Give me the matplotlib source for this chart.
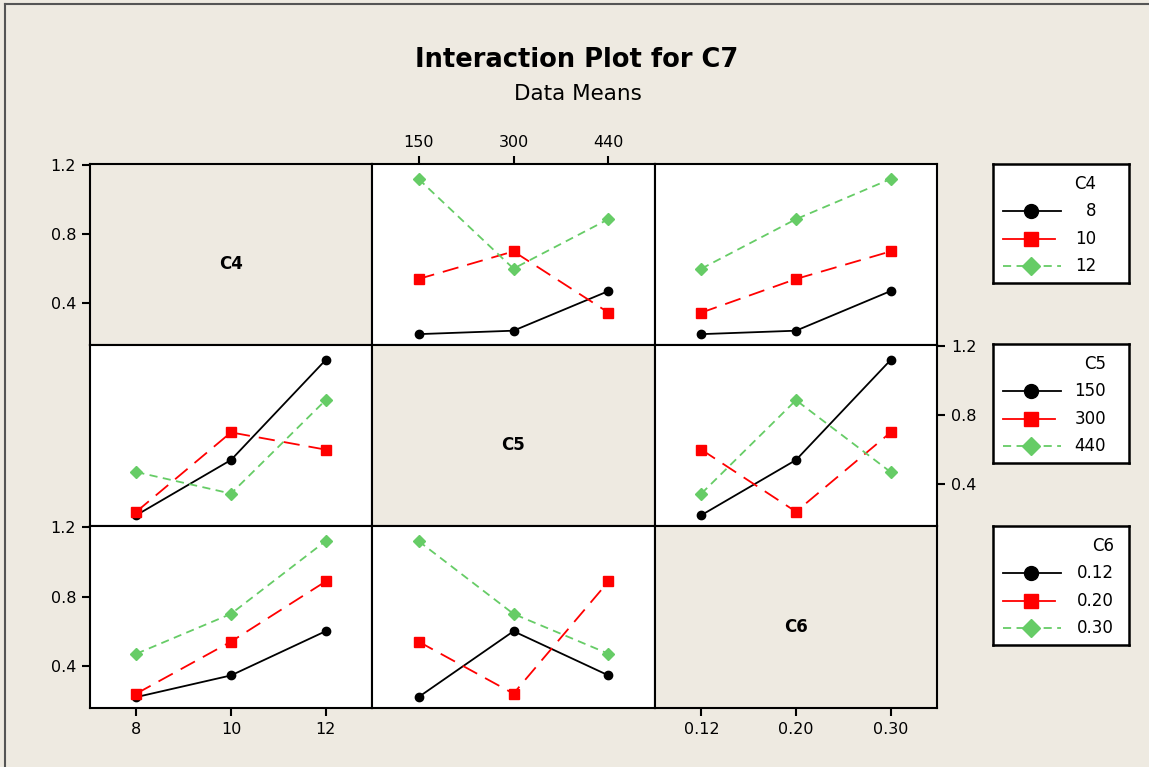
import numpy as np
import pandas as pd
import matplotlib
matplotlib.use('Agg')
import matplotlib.pyplot as plt
from matplotlib.lines import Line2D

# L9 runs: factor settings and response C7
c4 = [8, 8, 8, 10, 10, 10, 12, 12, 12]
c5 = [150, 300, 440, 150, 300, 440, 150, 300, 440]
c6 = [0.12, 0.20, 0.30, 0.20, 0.30, 0.12, 0.30, 0.12, 0.20]
c7 = [0.22, 0.24, 0.47, 0.54, 0.70, 0.345, 1.12, 0.60, 0.887]

factors = ['C4', 'C5', 'C6']
c4_levels = [8, 10, 12]
c5_levels = [150, 300, 440]
c6_levels = [0.12, 0.20, 0.30]
c4_labels = ['8', '10', '12']
c5_labels = ['150', '300', '440']
c6_labels = ['0.12', '0.20', '0.30']
y_ticks = [0.4, 0.8, 1.2]

df = pd.DataFrame({'C4': c4, 'C5': c5, 'C6': c6, 'C7': c7})
levels = {'C4': c4_levels, 'C5': c5_levels, 'C6': c6_levels}
labels = {'C4': c4_labels, 'C5': c5_labels, 'C6': c6_labels}

bg = '#EEEAE1'
green = '#66CC66'
styles = [
    dict(color='black', ls='-', marker='o', ms=6),
    dict(color='red', ls=(0, (9, 5)), marker='s', ms=7),
    dict(color=green, ls=(0, (4.5, 3)), marker='D', ms=6.5),
]
# legend samples: red line looks solid over such a short stretch
leg_ls = ['-', '-', (0, (4.5, 3))]
leg_ms = [10, 10, 9.5]

plt.rcParams['font.family'] = ['DejaVu Sans']

W, H = 1149, 767
fig = plt.figure(figsize=(W / 100, H / 100), dpi=100, facecolor=bg)

def box(x0, y0, x1, y1):
    return [x0 / W, 1 - y1 / H, (x1 - x0) / W, (y1 - y0) / H]

# outer frame (left and top edges)
fig.add_artist(Line2D([5 / W, 5 / W], [0, 1 - 4 / H], transform=fig.transFigure, color='#555555', lw=1.5))
fig.add_artist(Line2D([5 / W, 1], [1 - 4 / H, 1 - 4 / H], transform=fig.transFigure, color='#555555', lw=1.5))

fig.text(577 / W, 1 - 67 / H, 'Interaction Plot for C7', ha='center', va='baseline',
         fontsize=18.5, fontweight='bold')
fig.text(578 / W, 1 - 100 / H, 'Data Means', ha='center', va='baseline', fontsize=15.5)

xe = [90, 372, 655, 937]
ye = [164, 345, 526, 708]

for i, fi in enumerate(factors):
    for j, fj in enumerate(factors):
        ax = fig.add_axes(box(xe[j], ye[i], xe[j + 1], ye[i + 1]))
        ax.set_xlim(-0.49, 2.49)
        ax.set_ylim(0.157, 1.207)
        for s in ax.spines.values():
            s.set_linewidth(1.5)
        ax.tick_params(left=False, labelleft=False, bottom=False, labelbottom=False,
                       length=6, width=1.5, pad=4, labelsize=11.5)
        ax.set_xticks(range(3))
        ax.set_yticks(y_ticks)
        ax.set_yticklabels([f'{v:.1f}' for v in y_ticks])

        if i == j:
            ax.set_facecolor(bg)
            ax.text(0.5, 0.445, fi, transform=ax.transAxes, ha='center', va='center',
                    fontsize=12, fontweight='bold')
        else:
            ax.set_facecolor('white')
            for k, lvl in enumerate(levels[fi]):
                sub = df[df[fi] == lvl].groupby(fj)['C7'].mean().reindex(levels[fj])
                st = styles[k]
                ax.plot(range(3), sub.values, color=st['color'], ls=st['ls'], lw=1.3,
                        marker=st['marker'], ms=st['ms'], mec=st['color'], mfc=st['color'])

        if j == 0 and i != 1:
            ax.tick_params(left=True, labelleft=True)
        if i == 1 and j == 2:
            ax.tick_params(right=True, labelright=True)
        if i == 0 and j == 1:
            ax.tick_params(top=True, labeltop=True)
            ax.set_xticklabels(labels[fj])
        if i == 2 and j != 1:
            ax.tick_params(bottom=True, labelbottom=True)
            ax.set_xticklabels(labels[fj])

# legend boxes
leg_top = [164, 344, 526]
leg_right_text = [1096, 1106, 1114]
for n, f in enumerate(factors):
    T = leg_top[n]
    lax = fig.add_axes(box(993, T, 1129, T + 119))
    lax.set_xlim(993, 1129)
    lax.set_ylim(T + 119, T)
    lax.set_xticks([])
    lax.set_yticks([])
    lax.set_facecolor('white')
    for s in lax.spines.values():
        s.set_linewidth(1.8)
    rx = leg_right_text[n]
    lax.text(rx, T + 20, f, ha='right', va='center', fontsize=12)
    for k, lab in enumerate(labels[f]):
        yy = T + 47 + 27.5 * k
        st = styles[k]
        x_end = 1055 if k == 1 else 1061
        lax.plot([1003, x_end], [yy, yy], color=st['color'], ls=leg_ls[k], lw=1.3)
        lax.plot([1031], [yy], color=st['color'], marker=st['marker'], ms=leg_ms[k])
        lax.text(rx, yy, lab, ha='right', va='center', fontsize=12)

fig.savefig('out.png', dpi=100, facecolor=bg)
